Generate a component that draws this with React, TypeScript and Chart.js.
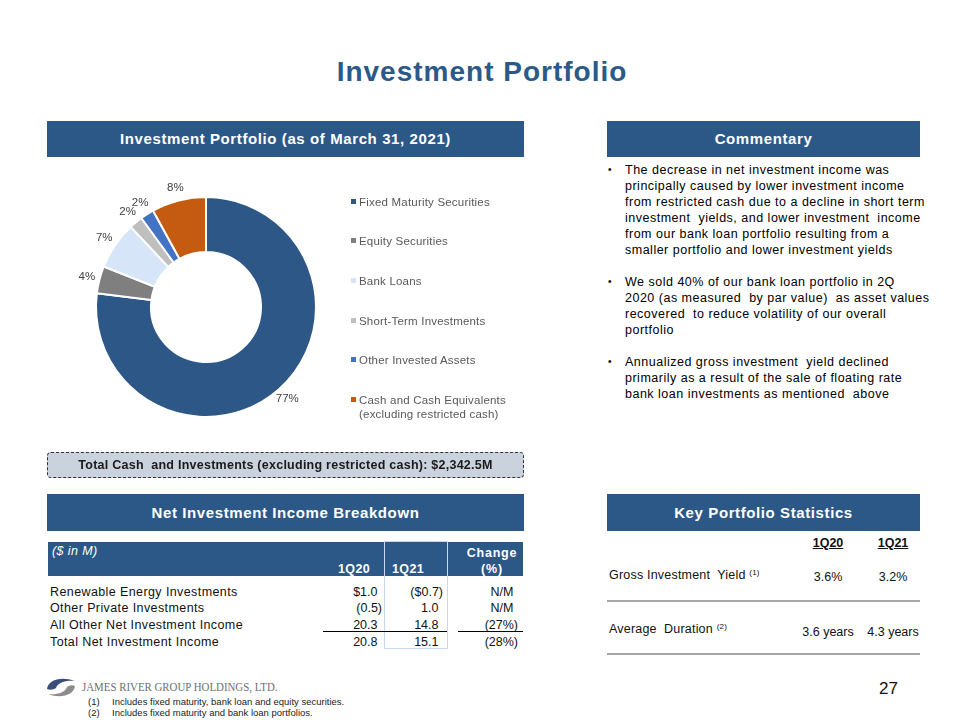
import React, { useEffect, useRef } from "react";
import { Chart, registerables } from "chart.js";

Chart.register(...registerables);

const categories = [
  "Fixed Maturity Securities",
  "Equity Securities",
  "Bank Loans",
  "Short-Term Investments",
  "Other Invested Assets",
  "Cash and Cash Equivalents\n(excluding restricted cash)",
];
const shares = [77, 4, 7, 2, 2, 8];
const sliceColors = ["#2C5786", "#7F7F7F", "#D6E6F8", "#BFBFBF", "#4472C4", "#C55A11"];

const commentary = [
  [
    "The decrease in net investment income was",
    "principally caused by lower investment income",
    "from restricted cash due to a decline in short term",
    "investment  yields, and lower investment  income",
    "from our bank loan portfolio resulting from a",
    "smaller portfolio and lower investment yields",
  ],
  [
    "We sold 40% of our bank loan portfolio in 2Q",
    "2020 (as measured  by par value)  as asset values",
    "recovered  to reduce volatility of our overall",
    "portfolio",
  ],
  [
    "Annualized gross investment  yield declined",
    "primarily as a result of the sale of floating rate",
    "bank loan investments as mentioned  above",
  ],
];

const nirRows = [
  "Renewable Energy Investments",
  "Other Private Investments",
  "All Other Net Investment Income",
  "Total Net Investment Income",
];
const nir1Q20 = ["$1.0", "(0.5)", "20.3", "20.8"];
const nir1Q21 = ["($0.7)", "1.0", "14.8", "15.1"];
const nirChange = ["N/M", "N/M", "(27%)", "(28%)"];

const statLabels = ["Gross Investment  Yield", "Average  Duration"];
const statNotes = ["(1)", "(2)"];
const stat1Q20 = ["3.6%", "3.6 years"];
const stat1Q21 = ["3.2%", "4.3 years"];

const footnotes = [
  "Includes fixed maturity, bank loan and equity securities.",
  "Includes fixed maturity and bank loan portfolios.",
];

const NAVY = "#2C5887";
const FONT = '"Liberation Sans", Arial, sans-serif';

const Abs: React.FC<{ style: React.CSSProperties; children?: React.ReactNode }> = ({ style, children }) => (
  <div style={{ position: "absolute", whiteSpace: "nowrap", ...style }}>{children}</div>
);

const HeaderBar: React.FC<{ x: number; y: number; w: number; h: number; text: string }> = ({ x, y, w, h, text }) => (
  <Abs
    style={{
      left: x,
      top: y,
      width: w,
      height: h,
      background: NAVY,
      color: "#fff",
      fontWeight: "bold",
      fontSize: 15,
      letterSpacing: 0.6,
      lineHeight: h + "px",
      textAlign: "center",
    }}
  >
    {text}
  </Abs>
);

const pctLabels = {
  id: "pctLabels",
  afterDatasetsDraw(chart: any) {
    const ctx = chart.ctx;
    const meta = chart.getDatasetMeta(0);
    ctx.save();
    ctx.font = '11.5px "Liberation Sans", Arial, sans-serif';
    ctx.fillStyle = "#404040";
    ctx.textAlign = "center";
    ctx.textBaseline = "middle";
    meta.data.forEach((arc: any, i: number) => {
      const p = arc.getProps(["x", "y", "startAngle", "endAngle", "outerRadius"], true);
      const mid = (p.startAngle + p.endAngle) / 2;
      const text = shares[i] + "%";
      const r = p.outerRadius + 13;
      ctx.fillText(text, p.x + Math.cos(mid) * r, p.y + Math.sin(mid) * r);
    });
    ctx.restore();
  },
};

function Donut() {
  const ref = useRef<HTMLCanvasElement>(null);
  useEffect(() => {
    if (!ref.current) return;
    const chart = new Chart(ref.current, {
      type: "doughnut",
      data: {
        labels: categories,
        datasets: [
          {
            data: shares,
            backgroundColor: sliceColors,
            borderColor: "#ffffff",
            borderWidth: 2,
          },
        ],
      },
      options: {
        responsive: false,
        animation: false,
        cutout: "50%",
        layout: { padding: 39 },
        plugins: { legend: { display: false }, tooltip: { enabled: false } },
      },
      plugins: [pctLabels],
    });
    return () => chart.destroy();
  }, []);
  return (
    <canvas
      ref={ref}
      width={300}
      height={300}
      style={{ position: "absolute", left: 56, top: 157, width: 300, height: 300 }}
    />
  );
}

function Logo() {
  return (
    <svg width={30} height={21} viewBox="0 0 30 21" style={{ position: "absolute", left: 46, top: 677 }}>
      <path d="M1 12 C2 3, 15 -1, 29 4 C21 3, 12 5, 10 11 C7 13, 4 13, 1 12 Z" fill="#3B4E7A" />
      <path d="M29 9 C28 18, 15 22, 2 17 C10 18, 19 16, 21 10 C24 8, 27 8, 29 9 Z" fill="#8C8C8C" />
    </svg>
  );
}

export default function App() {
  const rowY = [584, 600, 617, 634];
  const hang = (v: string) => (v.endsWith(")") ? 0 : 4.5);
  const body: React.CSSProperties = { fontSize: 12.5, lineHeight: "16px", color: "#111", letterSpacing: 0.4 };
  return (
    <div
      style={{
        position: "absolute",
        left: 0,
        top: 0,
        width: 960,
        height: 720,
        background: "#fff",
        fontFamily: FONT,
        overflow: "hidden",
      }}
    >
      {/* Title */}
      <Abs style={{ left: 0, top: 52, width: 964, textAlign: "center", fontSize: 28, fontWeight: "bold", color: "#2C5A88", lineHeight: "40px", letterSpacing: 1 }}>
        Investment Portfolio
      </Abs>

      <HeaderBar x={47} y={121} w={477} h={36} text="Investment Portfolio (as of March 31, 2021)" />
      <HeaderBar x={607} y={121} w={313} h={36} text="Commentary" />

      <Donut />

      {/* legend */}
      {categories.map((c, i) => {
        const ys = [201.5, 240.8, 280.5, 320.5, 359.7, 399.5];
        return (
          <React.Fragment key={c}>
            <Abs style={{ left: 351, top: ys[i] - 2.5, width: 5, height: 5, background: sliceColors[i] }} />
            <Abs
              style={{
                left: 359,
                top: ys[i] - 7,
                fontSize: 11.5,
                letterSpacing: 0.2,
                lineHeight: "14px",
                color: "#595959",
                whiteSpace: "pre",
              }}
            >
              {c}
            </Abs>
          </React.Fragment>
        );
      })}

      {/* Total box */}
      <Abs
        style={{
          left: 47,
          top: 452,
          width: 475,
          height: 24,
          background: "#CAD2DE",
          border: "1px dashed #333",
          borderRadius: 4,
          textAlign: "center",
          fontWeight: "bold",
          fontSize: 12.5,
          letterSpacing: 0.25,
          lineHeight: "24px",
          color: "#1a1a1a",
        }}
      >
        Total Cash&nbsp; and Investments (excluding restricted cash): $2,342.5M
      </Abs>

      {/* Commentary */}
      {(() => {
        const out: React.ReactNode[] = [];
        let y = 162;
        commentary.forEach((para, pi) => {
          out.push(
            <Abs key={"b" + pi} style={{ left: 608, top: y, fontSize: 10, lineHeight: "16px", color: "#000" }}>
              •
            </Abs>
          );
          para.forEach((line, li) => {
            out.push(
              <Abs key={pi + "-" + li} style={{ left: 625, top: y, fontSize: 12.5, letterSpacing: 0.5, lineHeight: "16px", color: "#000", whiteSpace: "pre" }}>
                {line}
              </Abs>
            );
            y += 16;
          });
          y += 16;
        });
        return out;
      })()}

      {/* Net investment income */}
      <HeaderBar x={47} y={494} w={477} h={37} text="Net Investment Income Breakdown" />
      <Abs style={{ left: 48, top: 542, width: 475, height: 34, background: NAVY }} />
      <Abs style={{ left: 384, top: 541, width: 62, height: 106, border: "1px solid #C6D9F0" }} />
      <Abs style={{ left: 52, top: 543, fontSize: 12.5, fontStyle: "italic", color: "#fff", lineHeight: "16px", letterSpacing: 0.4 }}>($ in M)</Abs>
      <Abs style={{ left: 324, top: 561, width: 60, textAlign: "center", fontSize: 12.5, fontWeight: "bold", color: "#fff", lineHeight: "16px", letterSpacing: 0.3 }}>1Q20</Abs>
      <Abs style={{ left: 384, top: 561, width: 48, textAlign: "center", fontSize: 12.5, fontWeight: "bold", color: "#fff", lineHeight: "16px", letterSpacing: 0.3 }}>1Q21</Abs>
      <Abs style={{ left: 462, top: 545, width: 60, textAlign: "center", fontSize: 12.5, fontWeight: "bold", color: "#fff", lineHeight: "16px", letterSpacing: 0.8 }}>Change</Abs>
      <Abs style={{ left: 462, top: 561, width: 60, textAlign: "center", fontSize: 12.5, fontWeight: "bold", color: "#fff", lineHeight: "16px", letterSpacing: 0.8 }}>(%)</Abs>
      {nirRows.map((r, i) => (
        <React.Fragment key={r}>
          <Abs style={{ left: 50, top: rowY[i], ...body }}>{r}</Abs>
          <Abs style={{ left: 300, top: rowY[i], width: 82 - hang(nir1Q20[i]), textAlign: "right", ...body, letterSpacing: 0 }}>{nir1Q20[i]}</Abs>
          <Abs style={{ left: 380, top: rowY[i], width: 63 - hang(nir1Q21[i]), textAlign: "right", ...body, letterSpacing: 0 }}>{nir1Q21[i]}</Abs>
          <Abs style={{ left: 450, top: rowY[i], width: 68 - hang(nirChange[i]), textAlign: "right", ...body, letterSpacing: 0 }}>{nirChange[i]}</Abs>
        </React.Fragment>
      ))}
      <Abs style={{ left: 323, top: 631, width: 124, height: 1, background: "#000" }} />
      <Abs style={{ left: 458, top: 631, width: 65, height: 1, background: "#000" }} />

      {/* Key stats */}
      <HeaderBar x={607} y={494} w={313} h={37} text="Key Portfolio Statistics" />
      <Abs style={{ left: 798, top: 535, width: 60, textAlign: "center", fontSize: 12.5, fontWeight: "bold", textDecoration: "underline", color: "#111", lineHeight: "16px" }}>1Q20</Abs>
      <Abs style={{ left: 863, top: 535, width: 60, textAlign: "center", fontSize: 12.5, fontWeight: "bold", textDecoration: "underline", color: "#111", lineHeight: "16px" }}>1Q21</Abs>
      {statLabels.map((s, i) => {
        const ly = [565, 619][i];
        const vy = [569, 624][i];
        return (
          <React.Fragment key={s}>
            <Abs style={{ left: 609, top: ly, fontSize: 12.5, color: "#111", lineHeight: "16px", whiteSpace: "pre", letterSpacing: 0.2 }}>
              {s} <sup style={{ fontSize: 8, verticalAlign: "4px" }}>{statNotes[i]}</sup>
            </Abs>
            <Abs style={{ left: 788, top: vy, width: 80, textAlign: "center", fontSize: 12.5, color: "#111", lineHeight: "16px" }}>{stat1Q20[i]}</Abs>
            <Abs style={{ left: 853, top: vy, width: 80, textAlign: "center", fontSize: 12.5, color: "#111", lineHeight: "16px" }}>{stat1Q21[i]}</Abs>
          </React.Fragment>
        );
      })}
      <Abs style={{ left: 607, top: 600, width: 313, height: 2, background: "#A6A6A6" }} />
      <Abs style={{ left: 607, top: 653, width: 313, height: 2, background: "#A6A6A6" }} />

      {/* Footer */}
      <Logo />
      <Abs
        style={{
          left: 82,
          top: 679,
          fontFamily: '"Liberation Serif", "Times New Roman", serif',
          fontSize: 12.5,
          color: "#707070",
          lineHeight: "16px",
          transform: "scaleX(0.87)",
          transformOrigin: "left center",
        }}
      >
        JAMES RIVER GROUP HOLDINGS, LTD.
      </Abs>
      {footnotes.map((f, i) => (
        <React.Fragment key={f}>
          <Abs style={{ left: 88, top: 697 + i * 11, fontSize: 9.5, color: "#222", lineHeight: "10px" }}>({i + 1})</Abs>
          <Abs style={{ left: 112, top: 697 + i * 11, fontSize: 9.5, color: "#222", lineHeight: "10px" }}>{f}</Abs>
        </React.Fragment>
      ))}
      <Abs style={{ left: 879, top: 679, fontSize: 17, color: "#111", lineHeight: "20px" }}>27</Abs>
    </div>
  );
}
